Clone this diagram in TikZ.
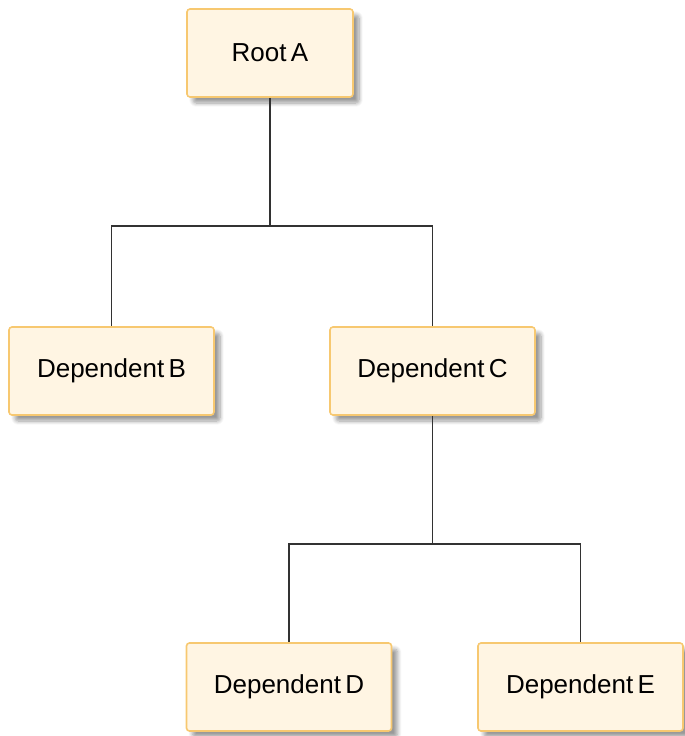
\documentclass[tikz,border=0pt]{standalone}
\usepackage{fontspec}
\setmainfont{Liberation Sans}[WordSpace=0.6]
\usepackage{tikz}
\usetikzlibrary{positioning,calc,shadows.blur}
\definecolor{boxfill}{RGB}{255,245,227}
\definecolor{boxline}{RGB}{247,200,112}
\definecolor{wire}{RGB}{50,50,50}

\begin{document}
\begin{tikzpicture}[x=1pt,y=-1pt,
  segbox/.style={draw=boxline,line width=1.6pt,fill=boxfill,rounded corners=3pt,
    minimum height=88pt,font=\fontsize{26}{30}\selectfont,inner sep=0pt,
    blur shadow={shadow xshift=6pt,shadow yshift=-6pt,shadow blur steps=8,
      shadow blur radius=4pt,shadow opacity=40}},
  link/.style={draw=wire,line width=1.4pt}]
  \useasboundingbox (0,0) rectangle (685,736);
  \node[segbox,minimum width=166pt] (rootA) at (270,53) {Root A};
  \node[segbox,minimum width=205pt] (depB) at (111.5,371) {Dependent B};
  \node[segbox,minimum width=205pt] (depC) at (432.5,371) {Dependent C};
  \node[segbox,minimum width=205pt] (depD) at (289,687) {Dependent D};
  \node[segbox,minimum width=205pt] (depE) at (580.5,687) {Dependent E};
  % level 1
  \coordinate (splitA) at ($(rootA.south)+(0,128)$);
  \draw[link] (rootA.south) -- (splitA) -| (depB.north);
  \draw[link] (splitA) -| (depC.north);
  % level 2
  \coordinate (splitC) at ($(depC.south)+(0,128)$);
  \draw[link] (depC.south) -- (splitC) -| (depD.north);
  \draw[link] (splitC) -| (depE.north);
\end{tikzpicture}
\end{document}
